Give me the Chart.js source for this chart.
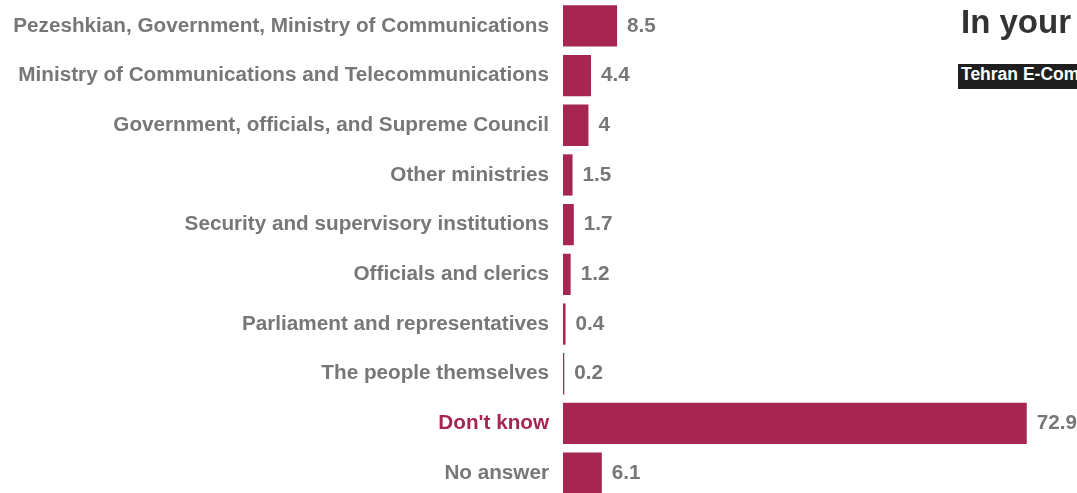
<!DOCTYPE html>
<html>
<head>
<meta charset="utf-8">
<script src="https://cdn.jsdelivr.net/npm/chart.js@4"></script>
<style>
  html, body { margin: 0; padding: 0; background: #fff; overflow: hidden; }
  #wrap { position: relative; width: 1077px; height: 493px; overflow: hidden; }
  #chart { position: absolute; left: 0; top: 0; }
  .title {
    position: absolute; left: 961px; top: 3px; white-space: nowrap;
    font: bold 33px "Liberation Sans", Arial, sans-serif; color: #333;
  }
  .source {
    position: absolute; left: 958px; top: 64px; height: 25px; line-height: 25px;
    padding: 0 3px; white-space: nowrap; background: #1f1f1f; color: #fff;
    font: bold 17.5px "Liberation Sans", Arial, sans-serif;
  }
</style>
</head>
<body>
<div id="wrap">
  <canvas id="chart"></canvas>
  <div class="title">In your</div>
  <div class="source">Tehran E-Commerce</div>
</div>
<script>
const categories = [
  'Pezeshkian, Government, Ministry of Communications',
  'Ministry of Communications and Telecommunications',
  'Government, officials, and Supreme Council',
  'Other ministries',
  'Security and supervisory institutions',
  'Officials and clerics',
  'Parliament and representatives',
  'The people themselves',
  "Don't know",
  'No answer'
];
const values = [8.5, 4.4, 4, 1.5, 1.7, 1.2, 0.4, 0.2, 72.9, 6.1];
const highlight = "Don't know";

const barColor = '#a62651';
const labelGrey = '#777777';
const font = '"Liberation Sans", Arial, sans-serif';

const canvas = document.getElementById('chart');
canvas.width = 1077;
canvas.height = 498;
canvas.style.width = '1077px';
canvas.style.height = '498px';

// category names to the left of the bars, values just past their ends
const barLabels = {
  id: 'barLabels',
  afterDatasetsDraw(chart) {
    const ctx = chart.ctx;
    const meta = chart.getDatasetMeta(0);
    const left = chart.chartArea.left;
    ctx.save();
    ctx.font = 'bold 20.7px ' + font;
    ctx.textBaseline = 'middle';
    meta.data.forEach((bar, i) => {
      ctx.textAlign = 'right';
      ctx.fillStyle = categories[i] === highlight ? barColor : labelGrey;
      ctx.fillText(categories[i], left - 14, bar.y);
      ctx.textAlign = 'left';
      ctx.fillStyle = labelGrey;
      ctx.fillText(String(values[i]), bar.x + 10, bar.y);
    });
    ctx.restore();
  }
};

new Chart(canvas, {
  type: 'bar',
  data: {
    labels: categories,
    datasets: [{
      data: values,
      backgroundColor: barColor,
      borderWidth: 0,
      barPercentage: 0.83,
      categoryPercentage: 1
    }]
  },
  options: {
    indexAxis: 'y',
    responsive: false,
    animation: false,
    layout: { padding: { top: 1, right: 0, bottom: 0, left: 0 } },
    plugins: {
      legend: { display: false },
      tooltip: { enabled: false }
    },
    scales: {
      x: {
        display: false,
        min: 0,
        max: 80.8
      },
      y: {
        grid: { display: false },
        border: { display: false },
        ticks: { display: false },
        afterFit(scale) { scale.width = 563; }
      }
    }
  },
  plugins: [barLabels]
});
</script>
</body>
</html>
